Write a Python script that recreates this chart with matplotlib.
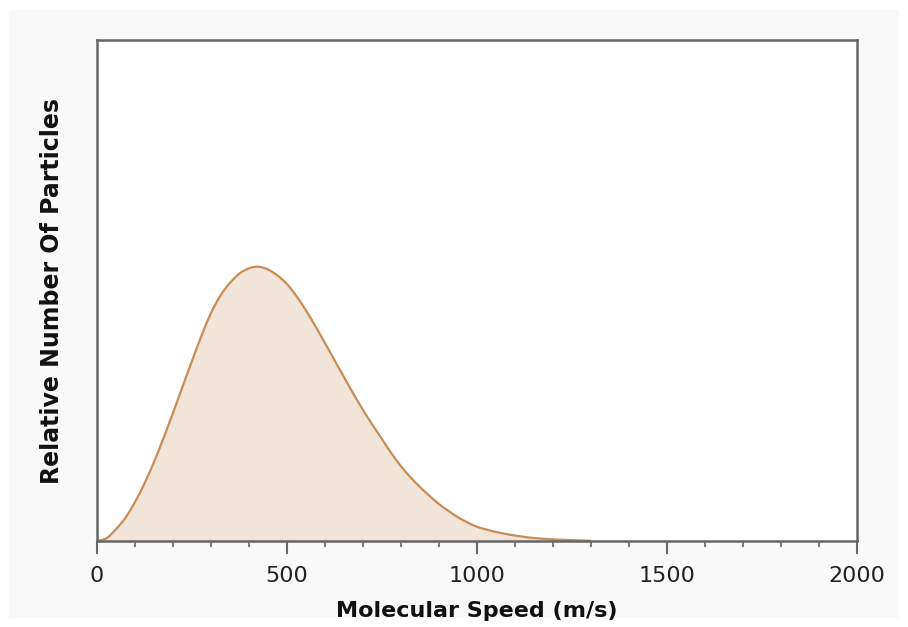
import matplotlib.pyplot as plt
from matplotlib.patches import Rectangle, PathPatch
from matplotlib.path import Path

# speeds (m/s) and relative number of particles (peak = 1)
speed = [0, 25, 50, 75, 100, 125, 150, 175, 200, 225, 250, 275, 300, 325,
         350, 375, 400, 424, 450, 475, 500, 525, 550, 575, 600, 625, 650,
         675, 700, 725, 750, 775, 800, 825, 850, 875, 900, 925, 950, 975,
         1000, 1025, 1050, 1075, 1100, 1125, 1150, 1175, 1200, 1250, 1300]
count = [0, 0.01, 0.043, 0.085, 0.142, 0.21, 0.288, 0.375, 0.467, 0.562,
         0.656, 0.748, 0.831, 0.895, 0.941, 0.975, 0.994, 1.0, 0.99, 0.968,
         0.937, 0.893, 0.841, 0.783, 0.722, 0.66, 0.598, 0.537, 0.478, 0.424,
         0.372, 0.32, 0.273, 0.233, 0.197, 0.165, 0.135, 0.11, 0.087, 0.068,
         0.052, 0.042, 0.033, 0.026, 0.02, 0.015, 0.011, 0.008, 0.006,
         0.003, 0.001]

major_ticks = [0, 500, 1000, 1500, 2000]
minor_ticks = list(range(0, 2001, 100))

line_color = "#c98c55"
fill_color = "#f1e4d9"
axis_color = "#666666"


def smooth_path(xs, ys):
    # catmull-rom through the read points, as cubic bezier segments
    verts = [(xs[0], ys[0])]
    codes = [Path.MOVETO]
    n = len(xs)
    for i in range(n - 1):
        x0, y0 = xs[max(i - 1, 0)], ys[max(i - 1, 0)]
        x1, y1 = xs[i], ys[i]
        x2, y2 = xs[i + 1], ys[i + 1]
        x3, y3 = xs[min(i + 2, n - 1)], ys[min(i + 2, n - 1)]
        c1 = (x1 + (x2 - x0) / 6, y1 + (y2 - y0) / 6)
        c2 = (x2 - (x3 - x1) / 6, y2 - (y3 - y1) / 6)
        verts += [c1, c2, (x2, y2)]
        codes += [Path.CURVE4] * 3
    return verts, codes


fig = plt.figure(figsize=(9.08, 6.27), dpi=100, facecolor="white")
panel = Rectangle((9 / 908, 9 / 627), 890 / 908, 608 / 627,
                  transform=fig.transFigure, facecolor="#f9f9f9",
                  edgecolor="none", zorder=-10)
fig.add_artist(panel)

ax = fig.add_axes([97 / 908, 1 - 541 / 627, (856.7 - 97) / 908, 501 / 627])
ax.set_zorder(5)
ax.set_facecolor("white")

verts, codes = smooth_path(speed, count)
fill_verts = verts + [(speed[-1], 0), (speed[0], 0), (speed[0], 0)]
fill_codes = codes + [Path.LINETO, Path.LINETO, Path.CLOSEPOLY]
ax.add_patch(PathPatch(Path(fill_verts, fill_codes), facecolor=fill_color,
                       edgecolor="none", zorder=1))
ax.add_patch(PathPatch(Path(verts, codes), facecolor="none",
                       edgecolor=line_color, lw=1.6, zorder=2))

ax.set_xlim(0, 2000)
ax.set_ylim(0, 501 / 274.3)

ax.set_xticks(major_ticks)
ax.set_xticks(minor_ticks, minor=True)
ax.set_yticks([])
ax.tick_params(axis="x", which="major", direction="out", length=9, width=1.5,
               color=axis_color, labelsize=16, labelcolor="#222222", pad=9)
ax.tick_params(axis="x", which="minor", direction="out", length=4.5, width=1.2,
               color=axis_color)

for s in ax.spines.values():
    s.set_color(axis_color)
    s.set_linewidth(1.8)

ax.set_xlabel("Molecular Speed (m/s)", fontsize=16, fontweight="bold",
              color="#111111", labelpad=11)
ax.set_ylabel("Relative Number Of Particles", fontsize=17, fontweight="bold",
              color="#111111", labelpad=24)

plt.savefig("out.png", dpi=100, facecolor=fig.get_facecolor())
